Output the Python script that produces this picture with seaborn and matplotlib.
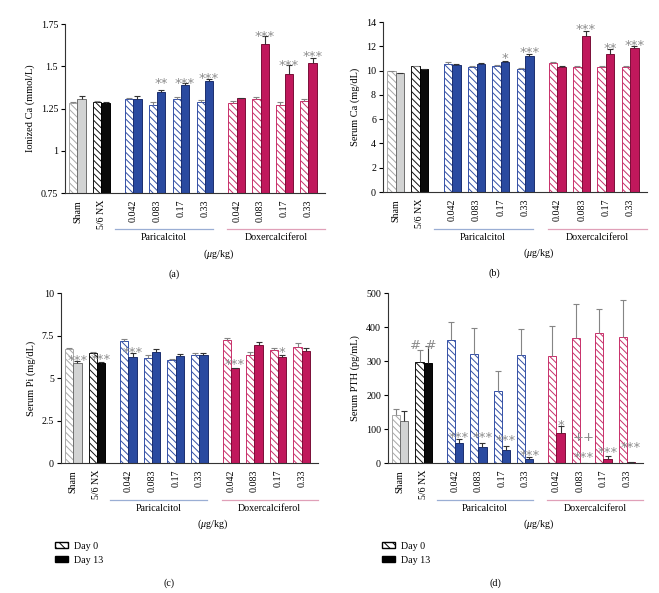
import numpy as np
import pandas as pd
import matplotlib
matplotlib.use("Agg")
import matplotlib.pyplot as plt
from matplotlib.patches import Patch
import seaborn as sns

# group labels (Sham, 5/6 NX, paricalcitol doses, doxercalciferol doses)
groups = ["Sham", "5/6 NX", "0.042", "0.083", "0.17", "0.33",
          "0.042", "0.083", "0.17", "0.33"]
cluster = [0, 0, 1, 1, 1, 1, 2, 2, 2, 2]

# (a) ionized Ca, mmol/L
ca_ion_d0 = [1.281, 1.289, 1.305, 1.270, 1.307, 1.289, 1.281, 1.307, 1.272, 1.295]
ca_ion_d0_err = [0.006, 0.008, 0.008, 0.018, 0.012, 0.010, 0.014, 0.014, 0.018, 0.014]
ca_ion_d13 = [1.309, 1.285, 1.307, 1.346, 1.390, 1.413, 1.311, 1.634, 1.455, 1.518]
ca_ion_d13_err = [0.018, 0.003, 0.020, 0.016, 0.010, 0.012, 0.004, 0.045, 0.051, 0.030]

# (b) serum Ca, mg/dL
ca_d0 = [9.95, 10.36, 10.56, 10.31, 10.39, 10.15, 10.64, 10.31, 10.28, 10.28]
ca_d0_err = [0.05, 0.05, 0.13, 0.05, 0.08, 0.10, 0.03, 0.08, 0.13, 0.08]
ca_d13 = [9.76, 10.09, 10.47, 10.53, 10.69, 11.18, 10.31, 12.85, 11.40, 11.84]
ca_d13_err = [0.05, 0.03, 0.05, 0.10, 0.10, 0.20, 0.05, 0.44, 0.38, 0.22]

# (c) serum Pi, mg/dL
pi_d0 = [6.69, 6.49, 7.17, 6.20, 6.05, 6.34, 7.21, 6.36, 6.65, 6.82]
pi_d0_err = [0.08, 0.04, 0.10, 0.14, 0.06, 0.12, 0.12, 0.17, 0.14, 0.21]
pi_d13 = [5.89, 5.89, 6.26, 6.53, 6.28, 6.34, 5.56, 6.94, 6.24, 6.61]
pi_d13_err = [0.12, 0.08, 0.19, 0.16, 0.14, 0.15, 0.04, 0.17, 0.12, 0.16]

# (d) serum PTH, pg/mL
pth_d0 = [142, 298, 362, 320, 211, 318, 316, 367, 381, 371]
pth_d0_err = [18, 34, 52, 76, 60, 76, 87, 102, 72, 108]
pth_d13 = [123, 295, 60, 48.5, 38, 12, 87, 1, 12.6, 2]
pth_d13_err = [31, 49, 10, 10, 13, 7, 22, 0.5, 8, 0.5]

# significance marks: (group, bar: 0=day0 1=day13 2=pair, text, y)
marks_a = [(3, 1, "**", 1.419), (4, 1, "***", 1.423), (5, 1, "***", 1.447),
           (7, 1, "***", 1.699), (8, 1, "***", 1.528), (9, 1, "***", 1.581)]
marks_b = [(4, 1, "*", 11.32), (5, 1, "***", 11.81), (7, 1, "***", 13.73),
           (8, 1, "**", 12.14), (9, 1, "***", 12.41)]
marks_c = [(0, 1, "***", 6.24), (1, 1, "***", 6.30), (2, 1, "***", 6.69),
           (6, 1, "***", 6.01), (8, 1, "*", 6.69)]
marks_d = [(1, 2, "# #", 357), (2, 1, "***", 87), (3, 1, "***", 87),
           (4, 1, "***", 78), (5, 1, "***", 32), (6, 1, "*", 121),
           (7, 1, "++", 87), (7, 1, "***", 27), (8, 1, "***", 41),
           (9, 1, "***", 56)]

solid_colors = ["#d2d3d3", "#0a0a0a", "#2a4aa0", "#2a4aa0", "#2a4aa0", "#2a4aa0",
                "#c0185c", "#c0185c", "#c0185c", "#c0185c"]
hatch_colors = ["#a8a8a8", "#111111", "#3450a6", "#3450a6", "#3450a6", "#3450a6",
                "#c8306a", "#c8306a", "#c8306a", "#c8306a"]
solid_edges = ["#707070", "#000000", "#1c2f6e", "#1c2f6e", "#1c2f6e", "#1c2f6e",
               "#7a0f38", "#7a0f38", "#7a0f38", "#7a0f38"]

SERIF = "Liberation Serif"
plt.rcParams["font.family"] = [SERIF, "DejaVu Sans"]
plt.rcParams["hatch.linewidth"] = 0.7
plt.rcParams["axes.linewidth"] = 0.8
plt.rcParams["mathtext.fontset"] = "custom"
plt.rcParams["mathtext.it"] = "Liberation Serif:italic"
plt.rcParams["mathtext.rm"] = "Liberation Serif"

positions = [i + 0.33 * c for i, c in enumerate(cluster)]
BW = 0.35


def draw_panel(ax, d0, d0_err, d13, d13_err, ylim, yticks, yticklabels, ylabel,
               marks, letter, legend=False):
    df = pd.DataFrame({
        "pos": positions * 2,
        "value": d0 + d13,
        "day": ["Day 0"] * len(d0) + ["Day 13"] * len(d13),
    })
    sns.barplot(data=df, x="pos", y="value", hue="day", native_scale=True,
                width=0.7, errorbar=None, legend=False, ax=ax)
    # recolour: hatched = Day 0, solid = Day 13
    for p in ax.patches:
        cx = p.get_x() + p.get_width() / 2
        g = int(np.argmin([abs(cx - q) for q in positions]))
        if cx < positions[g]:
            p.set_facecolor("white")
            p.set_edgecolor(hatch_colors[g])
            p.set_hatch("\\\\\\\\\\")
        else:
            p.set_facecolor(solid_colors[g])
            p.set_edgecolor(solid_edges[g])
        p.set_linewidth(0.7)

    pos = np.array(positions)
    for vals, errs, shift, col in [(d0, d0_err, -BW / 2, "#858585"),
                                   (d13, d13_err, BW / 2, "#333333")]:
        _, caps, _ = ax.errorbar(pos + shift, vals, yerr=[np.zeros(len(vals)), errs],
                                 fmt="none", ecolor=col, elinewidth=0.8,
                                 capsize=2, capthick=0.8, zorder=3)
        caps[0].set_visible(False)

    for g, which, txt, y in marks:
        x = positions[g] + [-BW / 2, BW / 2, 0][which]
        ax.annotate(txt, (x, y), xytext=(0, -5.2), textcoords="offset points",
                    ha="center", va="baseline", fontsize=9.5, color="#8c8c8c",
                    family="DejaVu Sans", annotation_clip=False)

    ax.set_xlim(-0.52, 10.35)
    ax.set_ylim(*ylim)
    ax.set_yticks(yticks, yticklabels, fontsize=7.2)
    ax.set_xticks(positions, groups, rotation=90, fontsize=7.2)
    ax.tick_params(axis="x", length=0, pad=5)
    ax.tick_params(axis="y", length=3, width=0.8, pad=2)
    ax.set_xlabel("")
    ax.set_ylabel(ylabel, fontsize=7.5, labelpad=4)
    sns.despine(ax=ax)
    for s in ["left", "bottom"]:
        ax.spines[s].set_color("#333333")

    trans = ax.get_xaxis_transform()
    ax.plot([1.56, 5.65], [-0.215, -0.215], transform=trans, color="#9aaed4",
            lw=0.9, clip_on=False)
    ax.plot([6.27, 10.35], [-0.215, -0.215], transform=trans, color="#e0a0b8",
            lw=0.9, clip_on=False)
    ax.text(3.6, -0.265, "Paricalcitol", transform=trans, ha="center", va="center",
            fontsize=7.2)
    ax.text(8.3, -0.265, "Doxercalciferol", transform=trans, ha="center",
            va="center", fontsize=7.2)
    ax.text(5.9, -0.362, "($\\mu$g/kg)", transform=trans, ha="center", va="center",
            fontsize=7.2)
    if legend:
        handles = [Patch(facecolor="white", edgecolor="black", hatch="\\\\\\\\",
                         label="Day 0"),
                   Patch(facecolor="black", edgecolor="black", label="Day 13")]
        ax.legend(handles=handles, loc="upper left", bbox_to_anchor=(-0.04, -0.44),
                  frameon=False, fontsize=7.2, handlelength=1.3, handleheight=0.5,
                  handletextpad=0.6, labelspacing=0.5, borderaxespad=0)
        ax.text(0.42, -0.705, letter, transform=ax.transAxes, ha="center",
                va="center", fontsize=7.2)
    else:
        ax.text(0.42, -0.48, letter, transform=ax.transAxes, ha="center",
                va="center", fontsize=7.2)


fig = plt.figure(figsize=(6.59, 5.93), dpi=100)
ax_a = fig.add_axes([0.0986, 0.6745, 0.3945, 0.285])
ax_b = fig.add_axes([0.5812, 0.6762, 0.4006, 0.2867])
ax_c = fig.add_axes([0.0926, 0.2192, 0.39, 0.2867])
ax_d = fig.add_axes([0.5888, 0.2192, 0.387, 0.2867])

draw_panel(ax_a, ca_ion_d0, ca_ion_d0_err, ca_ion_d13, ca_ion_d13_err,
           (0.75, 1.75), [0.75, 1, 1.25, 1.5, 1.75],
           ["0.75", "1", "1.25", "1.5", "1.75"], "Ionized Ca (mmol/L)",
           marks_a, "(a)")
draw_panel(ax_b, ca_d0, ca_d0_err, ca_d13, ca_d13_err,
           (0, 14), [0, 2, 4, 6, 8, 10, 12, 14],
           ["0", "2", "4", "6", "8", "10", "12", "14"], "Serum Ca (mg/dL)",
           marks_b, "(b)")
draw_panel(ax_c, pi_d0, pi_d0_err, pi_d13, pi_d13_err,
           (0, 10), [0, 2.5, 5, 7.5, 10], ["0", "2.5", "5", "7.5", "10"],
           "Serum Pi (mg/dL)", marks_c, "(c)", legend=True)
draw_panel(ax_d, pth_d0, pth_d0_err, pth_d13, pth_d13_err,
           (0, 500), [0, 100, 200, 300, 400, 500],
           ["0", "100", "200", "300", "400", "500"], "Serum PTH (pg/mL)",
           marks_d, "(d)", legend=True)

fig.savefig("out.png", dpi=100, facecolor="white")
